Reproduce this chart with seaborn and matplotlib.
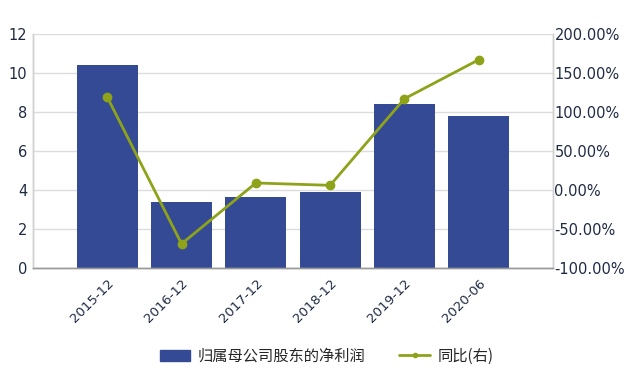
import numpy as np
import pandas as pd
import matplotlib
matplotlib.use('Agg')
import matplotlib.pyplot as plt
import seaborn as sns
from matplotlib.ticker import FuncFormatter
from matplotlib.patches import Patch
from matplotlib.lines import Line2D

# data
periods = ['2015-12', '2016-12', '2017-12', '2018-12', '2019-12', '2020-06']
net_profit = [10.42, 3.38, 3.64, 3.90, 8.41, 7.80]
yoy_pct = [119.0, -69.0, 9.0, 6.0, 117.0, 167.0]

bar_color = '#344a94'
line_color = '#8fa31a'
text_color = '#1f2a44'
grid_color = '#dcdcdc'

sns.set_style('white')
plt.rcParams['font.family'] = ['DejaVu Sans', 'Noto Sans CJK SC']

df = pd.DataFrame({'period': periods, 'profit': net_profit, 'yoy': yoy_pct})

fig = plt.figure(figsize=(6.37, 3.75), dpi=100)
ax = fig.add_axes([33 / 637, (375 - 268) / 375, 520 / 637, 234 / 375])

sns.barplot(data=df, x='period', y='profit', color=bar_color, saturation=1,
            width=0.82, linewidth=0, ax=ax, zorder=2)
ax.set_ylim(0, 12)
ax.set_yticks(range(0, 13, 2))
ax.grid(axis='y', color=grid_color, linewidth=1, zorder=0)
ax.set_axisbelow(True)
ax.set_xlabel('')
ax.set_ylabel('')

ax2 = ax.twinx()
sns.pointplot(data=df, x='period', y='yoy', color=line_color, ax=ax2,
              markers='o', markersize=5.5, linewidth=2)
ax2.set_ylim(-100, 200)
ax2.set_yticks(range(-100, 201, 50))
ax2.yaxis.set_major_formatter(FuncFormatter(lambda v, p: f'{v:.2f}%'))
ax2.set_ylabel('')
ax2.set_xlabel('')

ax.set_xlim(-1, 6)
ax2.set_xlim(-1, 6)

for a in (ax, ax2):
    for s in a.spines.values():
        s.set_color('#d0d0d0')
        s.set_linewidth(1)
    a.spines['bottom'].set_color('#999999')
ax.spines['top'].set_visible(False)
ax2.spines['top'].set_visible(False)

ax.tick_params(axis='y', length=0, labelsize=10.5, labelcolor=text_color, pad=4)
ax2.tick_params(axis='y', length=0, labelsize=10.5, labelcolor=text_color, pad=1)
ax.tick_params(axis='x', length=3, color='#888888', labelsize=9.5, labelcolor=text_color)
ax.set_xticks(range(len(periods)))
ax.set_xticklabels(periods, rotation=45, ha='right', rotation_mode='anchor')
ax2.tick_params(axis='x', length=0)

handles = [Patch(facecolor=bar_color, edgecolor=bar_color),
           Line2D([0], [0], color=line_color, linewidth=2, marker='o', markersize=3)]
labels = ['归属母公司股东的净利润', '同比(右)']
fig.legend(handles, labels, loc='center', bbox_to_anchor=(0.513, 0.05), ncol=2,
           frameon=False, handlelength=2.0, handletextpad=0.5, columnspacing=2.2,
           prop={'family': ['Noto Sans CJK SC', 'DejaVu Sans'], 'size': 11})

fig.savefig('out.png', dpi=100)
